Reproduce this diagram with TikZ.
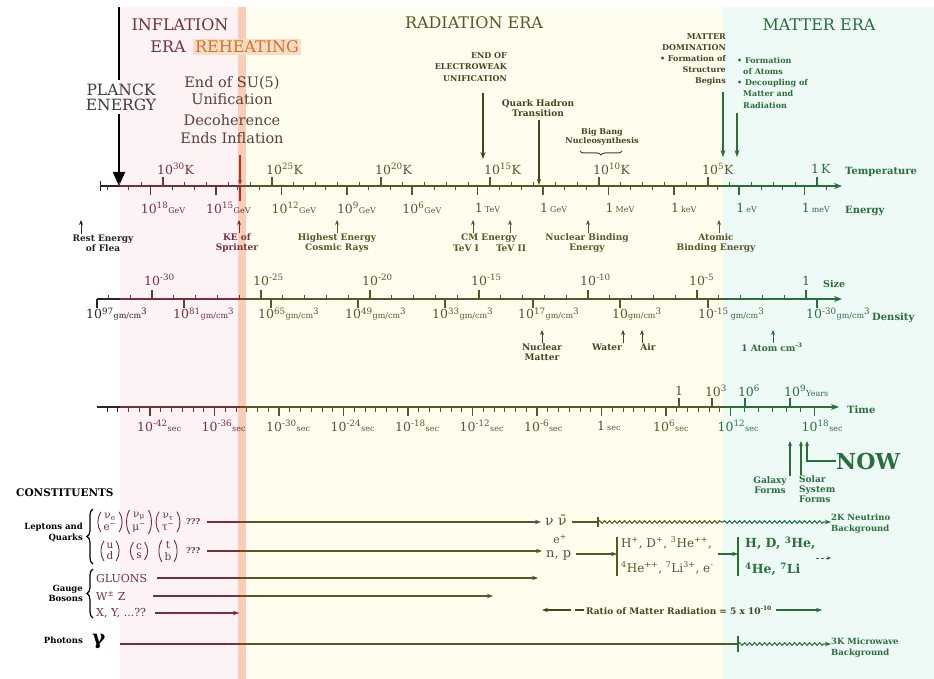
\documentclass[tikz,border=0pt]{standalone}
\usepackage{fontspec}
\setmainfont{DejaVu Serif}
\usetikzlibrary{arrows.meta,decorations.pathmorphing,decorations.pathreplacing}
\definecolor{pinkbg}{HTML}{FDF2F4}
\definecolor{stripe}{HTML}{FBCCB6}
\definecolor{creambg}{HTML}{FFFEEE}
\definecolor{cyanbg}{HTML}{EEFAF5}
\definecolor{cMar}{HTML}{73303D}
\definecolor{cOli}{HTML}{57572A}
\definecolor{cOliD}{HTML}{45451E}
\definecolor{cGrn}{HTML}{2A6E3C}
\definecolor{cReh}{HTML}{C77636}
\definecolor{cRehBg}{HTML}{FDDCC2}
\definecolor{cRed}{HTML}{B0302C}
\definecolor{cPl}{HTML}{3C3C4A}
\definecolor{cSU}{HTML}{5C3F3A}
\newcommand\usz{\fontsize{8}{8}\selectfont}
\begin{document}
\begin{tikzpicture}[x=1pt,y=-1pt,
  every node/.style={inner sep=0pt},
  era/.style={font=\fontsize{16}{18}\selectfont},
  blbl/.style={font=\bfseries\fontsize{9}{10}\selectfont, align=center},
  axl/.style={font=\fontsize{12.5}{13}\selectfont, anchor=west},
  axis/.style={line width=1.7pt},
  tk/.style={line width=0.9pt},
  mtk/.style={line width=1.7pt},
  upar/.style={line width=1pt,-{Stealth[length=5pt,width=4pt]}},
  conn/.style={line width=1.1pt},
  arr/.style={-{Stealth[length=6pt,width=4.5pt]}},
  pent/.style={font=\fontsize{10.5}{11.5}\selectfont,text=cMar,inner ysep=1.5pt,inner xsep=1.5pt},
  wavy/.style={decorate,decoration={snake,amplitude=1.3pt,segment length=5pt,post length=5pt}}]
\useasboundingbox (0,0) rectangle (934,679);
% backgrounds
\fill[white] (0,0) rectangle (934,679);
\fill[pinkbg] (120,7) rectangle (238,679);
\fill[stripe] (238,7) rectangle (246,679);
\fill[creambg] (246,7) rectangle (723,679);
\fill[cyanbg] (723,7) rectangle (934,679);
\coordinate (b1) at (120,0);
\coordinate (b2) at (240,0);
\coordinate (b3) at (723,0);

% era titles
\node[era,text=cMar] (infl) at (180,25) {INFLATION};
\node[era,text=cMar] (iera) at (168,47) {ERA};
\node[era,text=cReh,fill=cRehBg,inner xsep=2pt,inner ysep=2pt] (reh) at (247,47) {REHEATING};
\node[era,text=cOli] (rad) at (474,23) {RADIATION ERA};
\node[era,text=cGrn] (mat) at (819,25) {MATTER ERA};

% Planck
\node[font=\fontsize{15.5}{15}\selectfont,text=cPl,align=center,inner ysep=3pt] (planck) at (121,97) {PLANCK\\ENERGY};
\coordinate (plTop) at (119,7);
\coordinate (plTip) at (119,186);
\draw[line width=1.8pt] (plTop) -- (plTop |- planck.north);
\draw[line width=1.8pt,-{Triangle[length=14pt,width=12pt]}] (plTop |- planck.south) -- (plTip);

% SU(5)
\node[font=\fontsize{14.5}{17}\selectfont,text=cSU,align=center] (su5) at (232,91) {End of SU(5)\\Unification};
\node[font=\fontsize{14.5}{18}\selectfont,text=cSU,align=center] (deco) at (232,129) {Decoherence\\Ends Inflation};
\coordinate (redTop) at (240,155);
\coordinate (redTip) at (240,185);
\coordinate (redBot) at (240,201);
\draw[cRed,line width=1.2pt,-{Stealth[length=5pt,width=4pt]}] (redTop) -- (redTip);
\draw[cRed,line width=1.2pt] (redTip) -- (redBot);

% electroweak
\node[font=\bfseries\fontsize{8}{11.5}\selectfont,text=cOliD,align=right,anchor=north east] (ew) at (507,52) {END OF\\ELECTROWEAK\\UNIFICATION};
\coordinate (ewTop) at (483,93);
\coordinate (ewTip) at (483,159);
\draw[cOliD,line width=1.4pt,-{Stealth[length=7pt,width=5pt]}] (ewTop) -- (ewTip);

% quark hadron
\node[blbl,text=cOliD] (qh) at (538,108) {Quark Hadron\\Transition};
\coordinate (qhTip) at (539,185);
\draw[cOliD,line width=1.4pt,shorten <=3pt,-{Stealth[length=6pt,width=4pt]}] (qh.south -| qhTip) -- (qhTip);

% BBN
\node[font=\bfseries\fontsize{8}{9.5}\selectfont,align=center,text=cOliD] (bbn) at (602,137) {Big Bang\\Nucleosynthesis};
\coordinate (bbnR) at (622,151);
\coordinate (bbnL) at (580,151);
\draw[cOliD,line width=1pt,decorate,decoration={brace,amplitude=4pt}] (bbnR) -- (bbnL);

% matter domination
\node[font=\bfseries\fontsize{8}{11.2}\selectfont,text=cOliD,align=right,anchor=north east] (md) at (726,33) {MATTER\\DOMINATION\\• Formation of\\Structure\\Begins};
\coordinate (mdTop) at (723,92);
\coordinate (mdTip) at (723,157);
\draw[cGrn,line width=1.4pt,-{Stealth[length=7pt,width=5pt]}] (mdTop) -- (mdTip);
\node[font=\bfseries\fontsize{8}{11.2}\selectfont,text=cGrn,align=left,anchor=north west] (atoms) at (737,57) {• Formation\\\hspace*{6pt}of Atoms\\• Decoupling of\\\hspace*{6pt}Matter and\\\hspace*{6pt}Radiation};
\coordinate (atTop) at (737,113);
\coordinate (atTip) at (737,157);
\draw[cGrn,line width=1.4pt,-{Stealth[length=7pt,width=5pt]}] (atTop) -- (atTip);

% ===== Temperature / Energy axis =====
\coordinate (T0) at (100,186);
\coordinate (T1) at (842,186);
\draw[axis,black!85] (T0) -- (T0 -| b1);
\draw[axis,cMar] (T0 -| b1) -- (T0 -| b2);
\draw[axis,cOli] (T0 -| b2) -- (T0 -| b3);
\draw[axis,cGrn,-{Stealth[length=8pt,width=6pt]}] (T0 -| b3) -- (T1);
\draw[tk,black!85] (100,181) -- (100,191);
\foreach \n in {0,...,4} \draw[tk,cGrn] ({817-21.8*\n},186) -- ++(0,-4);
\foreach \n in {5,...,26} \draw[tk,cOli] ({817-21.8*\n},186) -- ++(0,-4);
\foreach \n in {27,...,32} \draw[tk,cMar] ({817-21.8*\n},186) -- ++(0,-4);
\foreach \n/\cc in {0/cGrn,5/cOli,10/cOli,15/cOli,20/cOli,25/cOli,30/cMar} \draw[mtk,\cc] ({817-21.8*\n},186) -- ++(0,-9);
\foreach \k in {-13,...,-9} \draw[tk,cGrn] ({543-21.8*\k},186) -- ++(0,4);
\foreach \k in {-8,...,13} \draw[tk,cOli] ({543-21.8*\k},186) -- ++(0,4);
\foreach \k in {14,...,20} \draw[tk,cMar] ({543-21.8*\k},186) -- ++(0,4);
\foreach \k/\cc in {-12/cGrn,-9/cGrn,-6/cOli,-3/cOli,0/cOli,3/cOli,6/cOli,9/cOli,12/cOli,15/cMar,18/cMar} \draw[mtk,\cc] ({543-21.8*\k},186) -- ++(0,9);
\foreach \n/\cc in {30/cMar,25/cOli,20/cOli,15/cOli,10/cOli,5/cOli} \node[axl,text=\cc] (tlab\n) at ({817-21.8*\n-6},169) {10\textsuperscript{\n}K};
\node[axl,text=cGrn] (tlab0) at (811,169) {1\,K};
\foreach \k/\cc in {18/cMar,15/cMar,12/cOli,9/cOli,6/cOli} \node[axl,text=\cc] (elab\k) at ({543-21.8*\k-10},208) {10\textsuperscript{\k}{\usz GeV}};
\foreach \k/\uu/\cc in {3/TeV/cOli,0/GeV/cOli,-3/MeV/cOli,-6/keV/cOli,-9/eV/cGrn,-12/meV/cGrn} \node[axl,text=\cc] (eu\uu) at ({543-21.8*\k-3},208) {1\,{\usz \uu}};
\node[font=\bfseries\fontsize{10}{10}\selectfont,text=cGrn,anchor=west] (ltemp) at (845,172) {Temperature};
\node[font=\bfseries\fontsize{10}{10}\selectfont,text=cGrn,anchor=west] (lener) at (845,211) {Energy};

% energy reference arrows
\node[blbl,text=black!85] (flea) at (103,243) {Rest Energy\\of Flea};
\coordinate (fleaT) at (81,220);
\draw[upar,black!85] (flea.north -| fleaT) -- (fleaT);
\node[blbl,text=cMar] (sprint) at (237,243) {KE of\\Sprinter};
\coordinate (sprintT) at (239,220);
\draw[upar,cMar] (sprint.north -| sprintT) -- (sprintT);
\node[blbl,text=cOli] (cosm) at (337,243) {Highest Energy\\Cosmic Rays};
\coordinate (cosmT) at (337,220);
\draw[upar,cOli] (cosm.north -| cosmT) -- (cosmT);
\node[blbl,text=cOli] (cm) at (489,238) {CM Energy};
\node[blbl,text=cOli] (tev1) at (466,248) {TeV I};
\node[blbl,text=cOli] (tev2) at (511,248) {TeV II};
\coordinate (tev1T) at (473,220);
\coordinate (tev2T) at (510,220);
\draw[upar,cOli] (cm.north -| tev1T) -- (tev1T);
\draw[upar,cOli] (cm.north -| tev2T) -- (tev2T);
\node[blbl,text=cOli] (nbe) at (587,243) {Nuclear Binding\\Energy};
\coordinate (nbeT) at (588,220);
\draw[upar,cOli] (nbe.north -| nbeT) -- (nbeT);
\node[blbl,text=cOli] (abe) at (716,243) {Atomic\\Binding Energy};
\coordinate (abeT) at (719,220);
\draw[upar,cOli] (abe.north -| abeT) -- (abeT);

% ===== Size / Density axis =====
\coordinate (S0) at (97,299);
\coordinate (S1) at (842,299);
\draw[axis,black!85] (S0) -- (S0 -| b1);
\draw[axis,cMar] (S0 -| b1) -- (S0 -| b2);
\draw[axis,cOli] (S0 -| b2) -- (S0 -| b3);
\draw[axis,cGrn,-{Stealth[length=8pt,width=6pt]}] (S0 -| b3) -- (S1);
\foreach \m in {-3,...,0} \draw[tk,cGrn] ({806+21.8*\m},299) -- ++(0,-4);
\foreach \m in {-25,...,-4} \draw[tk,cOli] ({806+21.8*\m},299) -- ++(0,-4);
\foreach \m in {-32,...,-26} \draw[tk,cMar] ({806+21.8*\m},299) -- ++(0,-4);
\foreach \m/\cc in {0/cGrn,-5/cOli,-10/cOli,-15/cOli,-20/cOli,-25/cOli,-30/cMar} \draw[mtk,\cc] ({806+21.8*\m},299) -- ++(0,-9);
\foreach \x/\cc in {97/black!85,184/cMar,271/cOli,358/cOli,445/cOli,533/cOli,620/cOli,708/cOli,817/cGrn} \draw[mtk,\cc] (\x,299) -- ++(0,9);
\foreach \m/\cc/\nm in {-30/cMar/a,-25/cOli/b,-20/cOli/c,-15/cOli/d,-10/cOli/e,-5/cOli/f} \node[axl,text=\cc] (slab\nm) at ({806+21.8*\m-8},280) {10\textsuperscript{\m}};
\node[font=\fontsize{12.5}{13}\selectfont,text=cGrn] (slabg) at (806,281) {1};
\node[font=\bfseries\fontsize{9.5}{10}\selectfont,text=cGrn,anchor=west] (lsize) at (823,284) {Size};
\node[axl,text=black!85] (d97) at (86,314) {10\textsuperscript{97}{\usz gm/cm}\textsuperscript{3}};
\node[axl,text=cMar] (d81) at (173,314) {10\textsuperscript{81}{\usz gm/cm}\textsuperscript{3}};
\node[axl,text=cOli] (d65) at (258,314) {10\textsuperscript{65}{\usz gm/cm}\textsuperscript{3}};
\node[axl,text=cOli] (d49) at (345,314) {10\textsuperscript{49}{\usz gm/cm}\textsuperscript{3}};
\node[axl,text=cOli] (d33) at (432,314) {10\textsuperscript{33}{\usz gm/cm}\textsuperscript{3}};
\node[axl,text=cOli] (d17) at (518,314) {10\textsuperscript{17}{\usz gm/cm}\textsuperscript{3}};
\node[axl,text=cOli] (d0) at (612,314) {10{\usz gm/cm}\textsuperscript{3}};
\node[axl,text=cOli] (dm15) at (698,314) {10\textsuperscript{-15}\,{\usz\color{cGrn} gm/cm}\textsuperscript{\color{cGrn}3}};
\node[axl,text=cGrn] (dm30) at (806,314) {10\textsuperscript{-30}{\usz gm/cm}\textsuperscript{3}};
\node[font=\bfseries\fontsize{10}{10}\selectfont,text=cGrn,anchor=west] (ldens) at (872,318) {Density};

\node[blbl,text=cOliD] (nucm) at (542,352) {Nuclear\\Matter};
\coordinate (nucmT) at (542,330);
\draw[upar,cOliD] (nucm.north -| nucmT) -- (nucmT);
\node[blbl,text=cOliD] (water) at (607,347) {Water};
\coordinate (waterT) at (623,330);
\draw[upar,cOliD] (water.north -| waterT) -- (waterT);
\node[blbl,text=cOliD] (air) at (648,347) {Air};
\coordinate (airT) at (642,330);
\draw[upar,cOliD] (air.north -| airT) -- (airT);
\node[blbl,text=cGrn] (atom) at (772,347) {1 Atom cm\textsuperscript{-3}};
\coordinate (atomT) at (773,330);
\draw[upar,cGrn] (atom.north -| atomT) -- (atomT);

% ===== Time axis =====
\coordinate (M0) at (97,407);
\coordinate (M1) at (839,407);
\draw[axis,black!85] (M0) -- (M0 -| b1);
\draw[axis,cMar] (M0 -| b1) -- (M0 -| b2);
\draw[axis,cOli] (M0 -| b2) -- (M0 -| b3);
\draw[axis,cGrn,-{Stealth[length=8pt,width=6pt]}] (M0 -| b3) -- (M1);
\foreach \s in {-46,-45} \draw[tk,black!85] ({150+10.75*(\s+42)},407) -- ++(0,5);
\foreach \s in {-44,...,-34} \draw[tk,cMar] ({150+10.75*(\s+42)},407) -- ++(0,5);
\foreach \s in {-33,...,11} \draw[tk,cOli] ({150+10.75*(\s+42)},407) -- ++(0,5);
\foreach \s in {12,...,18} \draw[tk,cGrn] ({730.5+14*(\s-12)},407) -- ++(0,5);
\foreach \x/\cc in {150/cMar,214.5/cMar,279/cOli,343.5/cOli,408/cOli,472.5/cOli,537/cOli,601.5/cOli,666/cOli,730.5/cGrn,814.5/cGrn} \draw[mtk,\cc] (\x,407) -- ++(0,9);
\foreach \x/\cc in {679/cOli,712/cOli,745/cGrn,790/cGrn} \draw[mtk,\cc] (\x,407) -- ++(0,-9);
\foreach \s/\x/\cc/\nm in {-42/150/cMar/a,-36/214.5/cMar/b,-30/279/cOli/c,-24/343.5/cOli/d,-18/408/cOli/e,-12/472.5/cOli/f,-6/537/cOli/g,6/666/cOli/i,12/730.5/cGrn/j,18/814.5/cGrn/k} \node[axl,text=\cc] (tm\nm) at ({\x-13},426) {10\textsuperscript{\s}{\usz sec}};
\node[axl,text=cOli] (tmh) at (597,426) {1\,{\usz sec}};
\node[font=\fontsize{12.5}{13}\selectfont,text=cOli] (yr1) at (679,391) {1};
\node[font=\fontsize{12.5}{13}\selectfont,text=cOli] (yr3) at (716,391) {10\textsuperscript{3}};
\node[font=\fontsize{12.5}{13}\selectfont,text=cGrn] (yr6) at (749,391) {10\textsuperscript{6}};
\node[axl,text=cGrn] (yr9) at (784,391) {10\textsuperscript{9}{\usz Years}};
\node[font=\bfseries\fontsize{10}{10}\selectfont,text=cGrn,anchor=west] (ltime) at (847,410) {Time};

\node[blbl,text=cGrn] (gal) at (770,485) {Galaxy\\Forms};
\coordinate (galT) at (790,441);
\draw[upar,cGrn,line width=1.3pt] (gal.north -| galT) -- (galT);
\node[blbl,text=cGrn,align=left,anchor=north west] (sol) at (799,475) {Solar\\System\\Forms};
\coordinate (solT) at (801,441);
\draw[upar,cGrn,line width=1.3pt] (sol.north -| solT) -- (solT);
\node[font=\bfseries\fontsize{22}{22}\selectfont,text=cGrn,anchor=west] (now) at (836,461) {NOW};
\coordinate (nowT) at (807,441);
\draw[upar,cGrn,line width=1.3pt] (now.west) -- (now.west -| nowT) -- (nowT);

% ===== Constituents =====
\node[font=\bfseries\fontsize{10.5}{11}\selectfont,anchor=west] (const) at (16,493) {CONSTITUENTS};
\node[font=\bfseries\fontsize{8.5}{11}\selectfont,align=right,anchor=east] (lq) at (83,533) {Leptons and\\Quarks};
\coordinate (lqA) at (93,509);
\coordinate (lqB) at (93,564);
\draw[line width=1.2pt,decorate,decoration={brace,amplitude=6pt}] (lqB) -- (lqA);
\node[pent] (l1) at (110,522) {\shortstack{ν\textsubscript{e}\\e\textsuperscript{−}}};
\node[pent] (l2) at (139,522) {\shortstack{ν\textsubscript{μ}\\μ\textsuperscript{−}}};
\node[pent] (l3) at (168,522) {\shortstack{ν\textsubscript{τ}\\τ\textsuperscript{−}}};
\node[pent] (q1) at (110,551) {\shortstack{u\\d}};
\node[pent] (q2) at (139,551) {\shortstack{c\\s}};
\node[pent] (q3) at (168,551) {\shortstack{t\\b}};
\foreach \nn in {l1,l2,l3,q1,q2,q3} {
  \draw[cMar,line width=0.9pt] ([xshift=-1pt]\nn.north west) .. controls +(-4,6) and +(-4,-6) .. ([xshift=-1pt]\nn.south west);
  \draw[cMar,line width=0.9pt] ([xshift=1pt]\nn.north east) .. controls +(4,6) and +(4,-6) .. ([xshift=1pt]\nn.south east);
}
\node[font=\bfseries\usz,text=cMar,anchor=west] (lqq) at (186,522) {???};
\node[font=\bfseries\usz,text=cMar,anchor=west] (qqq) at (186,551) {???};

\node[font=\fontsize{14}{14}\selectfont,text=cOli,anchor=west] (nu) at (545,520) {ν ν̄};
\node[font=\fontsize{11}{11}\selectfont,text=cOli] (epos) at (560,539) {e\textsuperscript{+}};
\node[font=\fontsize{13}{13}\selectfont,text=cOli,anchor=west] (np) at (546,555) {n, p};

\draw[conn,cMar,shorten <=7pt] (lqq.east) -- (lqq.east -| b2);
\draw[conn,cOli,arr,shorten >=4pt] (lqq.east -| b2) -- (nu.west |- lqq.east);
\draw[conn,cMar,shorten <=7pt] (qqq.east) -- (qqq.east -| b2);
\draw[conn,cOli,arr,shorten >=4pt] (qqq.east -| b2) -- (np.west |- qqq.east);

\coordinate (nuBar) at (598,522);
\coordinate (nuBarA) at (598,517);
\coordinate (nuBarB) at (598,527);
\node[font=\bfseries\fontsize{8.5}{11}\selectfont,text=cGrn,align=left,anchor=west] (nbg) at (831,524) {2K Neutrino\\Background};
\draw[conn,cOli,shorten <=5pt] (nu.east |- nuBar) -- (nuBar);
\draw[conn,cOli] (nuBarA) -- (nuBarB);
\draw[conn,cOli,decorate,decoration={snake,amplitude=1.3pt,segment length=5pt}] (nuBar) -- (nuBar -| b3);
\draw[conn,cGrn,wavy,arr] (nuBar -| b3) -- (nbg.west |- nuBar);

\coordinate (bar1) at (617,554);
\coordinate (bar1A) at (617,537);
\coordinate (bar1B) at (617,576);
\draw[conn,cOli] (bar1A) -- (bar1B);
\draw[conn,cOli,arr,shorten <=5pt] (np.east |- bar1) -- (bar1);
\node[font=\fontsize{12}{13}\selectfont,text=cOli,anchor=west] (ion1) at (621,543) {H\textsuperscript{+}, D\textsuperscript{+}, \textsuperscript{3}He\textsuperscript{++},};
\node[font=\fontsize{12}{13}\selectfont,text=cOli,anchor=west] (ion2) at (621,568) {\textsuperscript{4}He\textsuperscript{++}, \textsuperscript{7}Li\textsuperscript{3+}, e\textsuperscript{-}};
\coordinate (ionArr) at (718,554);
\coordinate (bar2) at (738,554);
\coordinate (bar2A) at (738,537);
\coordinate (bar2B) at (738,576);
\draw[conn,cGrn] (bar2A) -- (bar2B);
\draw[conn,cGrn,arr] (ionArr) -- (bar2);
\node[font=\bfseries\fontsize{12.5}{13}\selectfont,text=cGrn,anchor=west] (hd1) at (745,543) {H, D, \textsuperscript{3}He,};
\node[font=\bfseries\fontsize{12.5}{13}\selectfont,text=cGrn,anchor=west] (hd2) at (745,569) {\textsuperscript{4}He, \textsuperscript{7}Li};
\coordinate (hdArrA) at (816,558);
\coordinate (hdArrB) at (831,558);
\draw[cGrn,line width=1pt,dash pattern=on 3pt off 2pt,-{Stealth[length=4pt,width=3.5pt]}] (hdArrA) -- (hdArrB);

\node[font=\bfseries\fontsize{8.5}{10}\selectfont,align=right,anchor=east] (gb) at (83,593) {Gauge\\Bosons};
\coordinate (gbA) at (93,569);
\coordinate (gbB) at (93,618);
\draw[line width=1.2pt,decorate,decoration={brace,amplitude=6pt}] (gbB) -- (gbA);
\node[font=\fontsize{11}{11}\selectfont,text=cMar,anchor=west] (glu) at (96,578) {GLUONS};
\node[font=\fontsize{11}{11}\selectfont,text=cMar,anchor=west] (wz) at (96,596) {W\textsuperscript{±} Z};
\node[font=\fontsize{11}{11}\selectfont,text=cMar,anchor=west] (xy) at (96,613) {X, Y, ...??};
\coordinate (gluT) at (538,578);
\coordinate (wzT) at (493,596);
\coordinate (xyT) at (239,613);
\draw[conn,cMar,shorten <=10pt] (glu.east) -- (glu.east -| b2);
\draw[conn,cOli,arr] (glu.east -| b2) -- (gluT);
\draw[conn,cMar,shorten <=27pt] (wz.east) -- (wz.east -| b2);
\draw[conn,cOli,arr] (wz.east -| b2) -- (wzT);
\draw[conn,cMar,arr,shorten <=9pt] (xy.east) -- (xyT);

\node[font=\bfseries\fontsize{9}{10}\selectfont,text=cOliD,anchor=west] (ratio) at (586,610) {Ratio of Matter Radiation = 5 x 10\textsuperscript{-10}};
\coordinate (ratL) at (542,610);
\coordinate (ratR) at (822,610);
\draw[conn,cOliD,arr,dash pattern=on 9pt off 4pt on 40pt off 2pt,shorten <=2pt] (ratio.west) -- (ratL);
\draw[conn,cGrn,arr,shorten <=4pt] (ratio.east) -- (ratR);

\node[font=\bfseries\fontsize{8.5}{10}\selectfont,anchor=east] (pho) at (83,640) {Photons};
\node[font=\bfseries\fontsize{20}{20}\selectfont,anchor=west] (gam) at (92,641) {γ};
\node[font=\bfseries\fontsize{8.5}{11}\selectfont,text=cGrn,align=left,anchor=west] (mbg) at (831,648) {3K Microwave\\Background};
\coordinate (phoBar) at (738,644);
\coordinate (phoBarA) at (738,636);
\coordinate (phoBarB) at (738,652);
\draw[conn,cMar,shorten <=14pt] (gam.east |- phoBar) -- (phoBar -| b2);
\draw[conn,cOli] (phoBar -| b2) -- (phoBar);
\draw[conn,cGrn] (phoBarA) -- (phoBarB);
\draw[conn,cGrn,wavy,arr] (phoBar) -- (mbg.west |- phoBar);
\end{tikzpicture}
\end{document}
